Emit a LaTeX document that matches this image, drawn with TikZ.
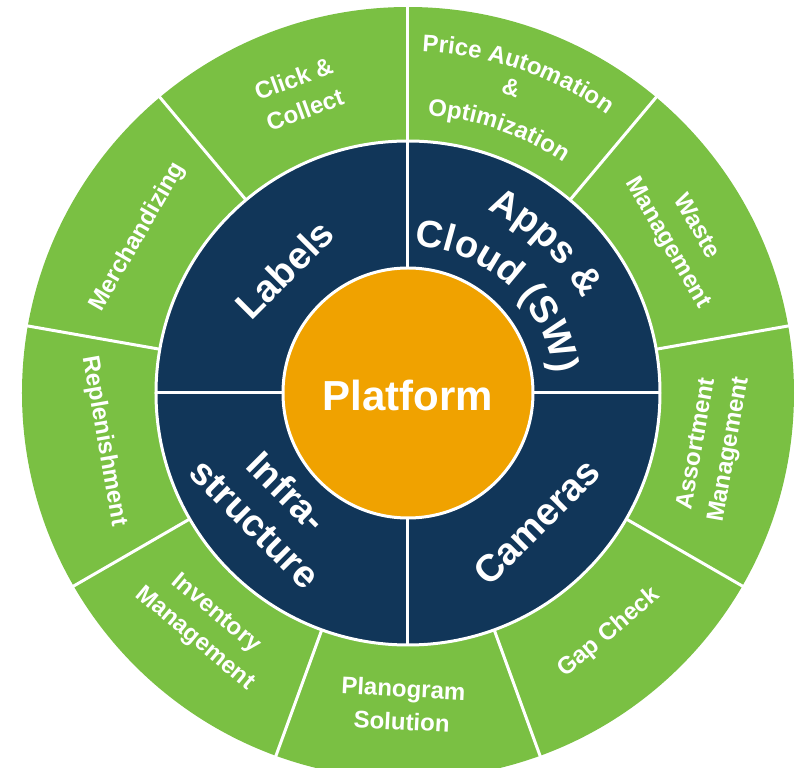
\documentclass[tikz,border=0pt]{standalone}
\usepackage{fontspec}
\setmainfont{Liberation Sans}
\usepackage{tikz}
\usetikzlibrary{decorations.text}

\definecolor{wheelgreen}{RGB}{122,192,67}
\definecolor{wheelnavy}{RGB}{17,54,89}
\definecolor{wheelorange}{RGB}{240,162,0}

\newcommand{\outerfont}{\bfseries\fontsize{24}{33}\selectfont}
\newcommand{\innerfont}{\bfseries\fontsize{38}{45}\selectfont}

\tikzset{
sep/.style={white, line width=3},
outertext/.style={white, align=center, inner sep=0, font=\outerfont},
innertext/.style={white, align=center, inner sep=0, font=\innerfont},
arctext/.style={decorate, decoration={text along path, text align=center, text color=white}},
}

\begin{document}
\begin{tikzpicture}[x=1pt, y=1pt]
\useasboundingbox (-408,-375) rectangle (388,393);

\fill [wheelgreen] (0,0) circle (386);
\foreach \a in {10,50,...,330} \draw [sep] (\a:250) -- (\a:388);
\fill [wheelnavy, draw=white, line width=3] (0,0) circle (252);
\foreach \a in {0,90,180,270} \draw [sep] (\a:120) -- (\a:252);
\fill [wheelorange, draw=white, line width=3] (0,0) circle (125);

\node [outertext, rotate=20] (clickcollect) at (110:318) {Click \&\\Collect};
\path [arctext, decoration={text={|\outerfont|Price Automation}}] (101:342) arc [start angle=101, end angle=41, radius=342];
\node [outertext, rotate=-19] (priceamp) at (71.3:322) {\&};
\path [arctext, decoration={text={|\outerfont|Optimization}}] (106:278) arc [start angle=106, end angle=36, radius=278];
\node [outertext, rotate=-60] (waste) at (30:316) {Waste\\Management};
\node [outertext, rotate=80] (assortment) at (-10:310) {Assortment\\Management};
\node [outertext, rotate=40] (gapcheck) at (-50:313) {Gap Check};
\node [outertext, rotate=-3] (planogram) at (269:312) {Planogram\\Solution};
\node [outertext, rotate=-40] (inventory) at (229:309) {Inventory\\Management};
\node [outertext, rotate=-80] (replenish) at (189:308) {Replenishment};
\node [outertext, rotate=60] (merch) at (150:312) {Merchandizing};

\node [innertext, rotate=45] (labels) at (135:175) {Labels};
\path [arctext, decoration={text={|\innerfont|Apps {\&}}}] (87.5:199) arc [start angle=87.5, end angle=7.5, radius=199];
\path [arctext, decoration={text={|\innerfont|Cloud (SW)}}] (110:147) arc [start angle=110, end angle=-15, radius=147];
\node [innertext, rotate=-45] (infra) at (220:178) {Infra-\\structure};
\node [innertext, rotate=45] (cameras) at (-45:182) {Cameras};

\node [white, font=\bfseries\fontsize{42}{44}\selectfont] (platform) at (0,-2) {Platform};
\end{tikzpicture}
\end{document}
